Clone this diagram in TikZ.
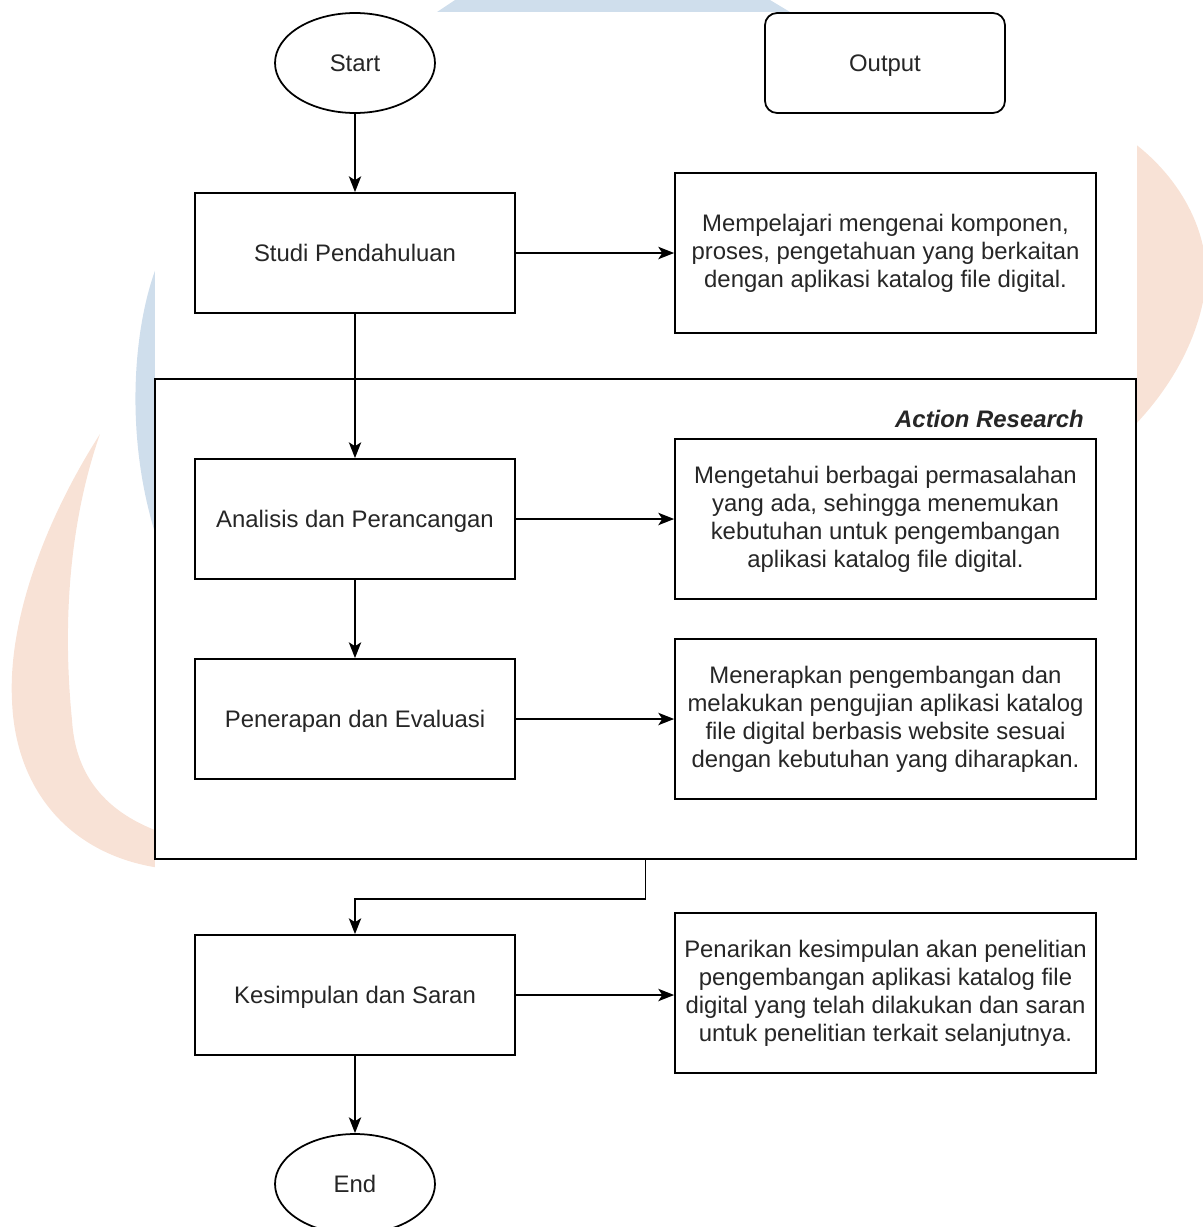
\documentclass[tikz,border=0pt]{standalone}
\usepackage{fontspec}
\setmainfont{Liberation Sans}
\usetikzlibrary{shapes.geometric,arrows.meta}
\definecolor{wmblue}{RGB}{207,222,236}
\definecolor{wmorange}{RGB}{248,226,214}
\begin{document}
\begin{tikzpicture}[x=0.02cm,y=-0.02cm,
    font=\fontsize{13.6}{15.9}\selectfont,
    proc/.style={draw, line width=1pt, minimum width=6.4cm, minimum height=2.4cm, inner sep=0pt, text depth=0pt, text=black!85},
    outbox/.style={draw, line width=1pt, minimum width=8.42cm, minimum height=3.2cm, inner sep=0pt, align=center, text=black!85},
    term/.style={draw, ellipse, line width=1pt, minimum width=3.2cm, minimum height=2cm, inner sep=0pt, text=black!85},
    arr/.style={line width=1pt, -{Stealth[length=9pt,width=7pt,inset=2.2pt]}}]
    \useasboundingbox (0,0) rectangle (1203,1227);
    \clip (0,0) rectangle (1203,1227);

    % watermark behind the chart
    \fill[wmblue] (437,12) -- (455,0) -- (770,0) -- (790,12) -- cycle;
    \fill[wmblue] (160,258) .. controls (133,320) and (122,440) .. (160,548) -- cycle;
    \fill[wmorange] (100,434) .. controls (45,520) and (8,620) .. (12,700)
        .. controls (15,790) and (70,855) .. (160,868) -- (160,832)
        .. controls (100,810) and (75,770) .. (72,720)
        .. controls (62,620) and (70,520) .. (100,434) -- cycle;
    \fill[wmorange] (1130,140) .. controls (1185,180) and (1212,240) .. (1205,290)
        .. controls (1198,340) and (1170,390) .. (1130,430) -- cycle;
    \fill[white] (155,12) rectangle (1137,1227);

    % action research frame
    \node[draw, line width=1pt, minimum width=19.62cm, minimum height=9.6cm, inner sep=0pt] (ar) at (645.5,619) {};
    \node[anchor=east, font=\fontsize{13.6}{15.9}\selectfont\bfseries\itshape, text=black!85] (arlbl) at (1090,419) {Action Research};

    \node[term] (start) at (355,63) {Start};
    \node[draw, line width=1pt, rounded corners=0.24cm, minimum width=4.8cm, minimum height=2cm, text depth=0pt, text=black!85] (out) at (885,63) {Output};

    \node[proc] (studi) at (355,253) {Studi Pendahuluan};
    \node[outbox] (o1) at (885.5,253) {Mempelajari mengenai komponen,\\proses, pengetahuan yang berkaitan\\dengan aplikasi katalog file digital.};

    \node[proc] (anal) at (355,519) {Analisis dan Perancangan};
    \node[outbox] (o2) at (885.5,519) {Mengetahui berbagai permasalahan\\yang ada, sehingga menemukan\\kebutuhan untuk pengembangan\\aplikasi katalog file digital.};

    \node[proc] (pen) at (355,719) {Penerapan dan Evaluasi};
    \node[outbox] (o3) at (885.5,719) {Menerapkan pengembangan dan\\melakukan pengujian aplikasi katalog\\file digital berbasis website sesuai\\dengan kebutuhan yang diharapkan.};

    \node[proc] (kes) at (355,995) {Kesimpulan dan Saran};
    \node[outbox] (o4) at (885.5,993) {Penarikan kesimpulan akan penelitian\\pengembangan aplikasi katalog file\\digital yang telah dilakukan dan saran\\untuk penelitian terkait selanjutnya.};

    \node[term] (end) at (355,1184) {End};

    \draw[arr] (start) -- (studi);
    \draw[arr] (studi) -- (anal);
    \draw[arr] (anal) -- (pen);
    \draw[arr] (ar.south) -- ++(0,39) -| (kes.north);
    \draw[arr] (kes) -- (end);
    \draw[arr] (studi) -- (o1);
    \draw[arr] (anal) -- (o2);
    \draw[arr] (pen) -- (o3);
    \draw[arr] (kes.east) -- (kes.east -| o4.west);
\end{tikzpicture}
\end{document}
